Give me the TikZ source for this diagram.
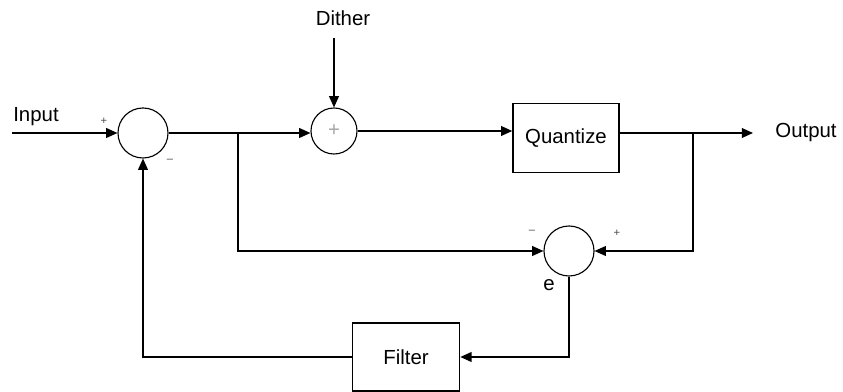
\documentclass[tikz,border=0pt]{standalone}
\usepackage{fontspec}
\setmainfont{Liberation Sans}
\usetikzlibrary{arrows.meta,positioning,calc}

\begin{document}
\begin{tikzpicture}[
            x=0.025cm, y=-0.025cm,
            >=Triangle,
            every node/.style={font=\fontsize{14.5}{17}\selectfont},
            sumnode/.style={
                draw,
                line width=0.8pt,
                circle,
                inner sep=0pt,
                minimum size=1.25cm
            },
            block/.style={
                draw,
                line width=1pt,
                rectangle,
                align=center
            },
            sign/.style={font=\fontsize{8}{9}\selectfont, text=black!70},
            arrow/.style={-{Triangle[length=8pt, width=7pt]}, line width=0.9pt},
            wire/.style={line width=0.9pt}
        ]
        \useasboundingbox (0,0) rectangle (843,392);

        %---------------- Summing junctions ----------------%
        \node[sumnode] (sumin) at (143,133) {};
        \node[sumnode, minimum size=1.15cm] (sumdither) at (334,131) {};
        \node[text=black!35] at (sumdither) {+};
        \node[sumnode] (sume) at (569,251) {};

        %---------------- Blocks ----------------%
        \node[block, minimum width=2.65cm, minimum height=1.72cm] (quant) at (566,138) {Quantize};
        \node[block, minimum width=2.68cm, minimum height=1.7cm] (filter) at (406,357) {Filter};

        %---------------- Labels ----------------%
        \node (input) at (36,117) {Input};
        \node (dither) at (343,18) {Dither};
        \node (output) at (806,133) {Output};
        \node at (549,285) {e};

        \node[sign] at (104,121) {+};
        \node[sign] at (170,161) {--};
        \node[sign] at (532,232) {--};
        \node[sign] at (617,233) {+};

        %---------------- Free ends and branch points ----------------%
        \coordinate (in) at (12,133);
        \coordinate (out) at (753,133);
        \coordinate (b1) at (238,133);
        \coordinate (b2) at (693,133);

        %================ Forward path =================%
        \draw[arrow] (in) -- (sumin.west);
        \draw[arrow] (sumin.east) -- (sumin.east -| sumdither.west);
        \draw[arrow] (dither.south -| sumdither.north) ++(0,8) -- (sumdither.north);
        \draw[arrow] (sumdither.east) -- (sumdither.east -| quant.west);
        \draw[arrow] (b2 -| quant.east) -- (out);

        %================ Error path =================%
        \draw[arrow] (b1) |- (sume.west);
        \draw[arrow] (b2) |- (sume.east);

        %================ Feedback through filter =================%
        \draw[arrow] (sume.south) |- (filter.east);
        \draw[arrow] (filter.west) -| (sumin.south);

        \end{tikzpicture}
\end{document}
